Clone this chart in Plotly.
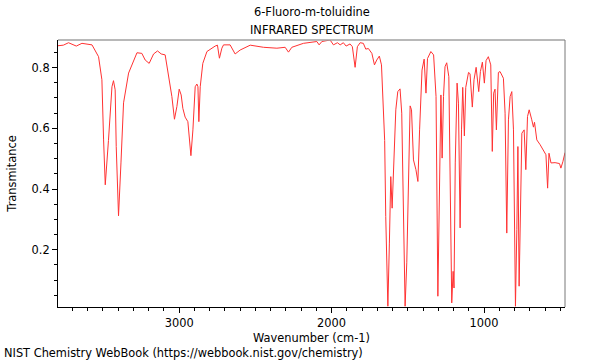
import plotly.graph_objects as go

wavenumber = [3797, 3760, 3726, 3675, 3638, 3572, 3529, 3507, 3496, 3485, 3464, 3441, 3431, 3420, 3413, 3398,
              3382, 3365, 3332, 3277, 3245, 3223, 3197, 3168, 3142, 3118, 3092, 3070, 3048, 3031, 3015, 3000,
              2987, 2976, 2961, 2943, 2923, 2910, 2895, 2884, 2877, 2871, 2862, 2845, 2818, 2764, 2749, 2736,
              2720, 2709, 2666, 2633, 2600, 2534, 2447, 2359, 2305, 2283, 2261, 2185, 2097, 2082, 2064, 2010,
              1988, 1962, 1944, 1923, 1905, 1879, 1864, 1846, 1831, 1813, 1792, 1776, 1759, 1736, 1719, 1704,
              1687, 1673, 1660, 1652, 1645, 1631, 1621, 1612, 1603, 1594, 1579, 1566, 1551, 1540, 1529, 1518,
              1507, 1496, 1485, 1476, 1463, 1447, 1434, 1423, 1407, 1393, 1381, 1371, 1349, 1331, 1315, 1303,
              1292, 1283, 1275, 1266, 1256, 1245, 1231, 1223, 1212, 1203, 1197, 1189, 1177, 1168, 1157, 1148,
              1140, 1129, 1120, 1102, 1092, 1077, 1066, 1052, 1044, 1035, 1024, 1011, 998, 987, 972, 956,
              946, 937, 928, 919, 906, 895, 873, 862, 851, 840, 829, 818, 807, 794, 785, 778,
              770, 761, 752, 737, 726, 715, 704, 687, 676, 669, 654, 632, 610, 594, 583, 574,
              561, 534, 505, 496, 483, 469]
transmittance = [0.872, 0.874, 0.882, 0.871, 0.880, 0.875, 0.836, 0.760, 0.562, 0.414, 0.560, 0.737, 0.757, 0.727, 0.540, 0.312,
                 0.486, 0.684, 0.782, 0.849, 0.847, 0.825, 0.814, 0.845, 0.855, 0.845, 0.842, 0.770, 0.705, 0.630, 0.672, 0.729,
                 0.710, 0.666, 0.637, 0.622, 0.510, 0.595, 0.737, 0.746, 0.737, 0.622, 0.737, 0.814, 0.853, 0.871, 0.874, 0.831,
                 0.864, 0.875, 0.875, 0.845, 0.858, 0.874, 0.867, 0.864, 0.867, 0.851, 0.867, 0.880, 0.886, 0.875, 0.886, 0.891,
                 0.875, 0.882, 0.875, 0.882, 0.871, 0.878, 0.869, 0.801, 0.869, 0.882, 0.880, 0.861, 0.863, 0.847, 0.809, 0.825,
                 0.838, 0.809, 0.683, 0.560, 0.310, 0.014, 0.222, 0.441, 0.337, 0.486, 0.661, 0.721, 0.730, 0.650, 0.266, 0.014,
                 0.157, 0.486, 0.674, 0.661, 0.496, 0.464, 0.425, 0.595, 0.792, 0.828, 0.716, 0.830, 0.853, 0.842, 0.705, 0.047,
                 0.376, 0.710, 0.502, 0.705, 0.803, 0.816, 0.770, 0.486, 0.025, 0.129, 0.074, 0.486, 0.749, 0.683, 0.272, 0.595,
                 0.735, 0.575, 0.735, 0.784, 0.780, 0.670, 0.760, 0.801, 0.770, 0.721, 0.787, 0.818, 0.749, 0.823, 0.836, 0.809,
                 0.524, 0.716, 0.729, 0.595, 0.784, 0.787, 0.765, 0.650, 0.255, 0.628, 0.705, 0.721, 0.595, 0.014, 0.266, 0.540,
                 0.080, 0.376, 0.584, 0.595, 0.464, 0.639, 0.661, 0.628, 0.604, 0.620, 0.562, 0.546, 0.524, 0.513, 0.403, 0.518,
                 0.486, 0.487, 0.484, 0.469, 0.490, 0.520]

title_line1 = "6-Fluoro-m-toluidine"
title_line2 = "INFRARED SPECTRUM"
x_title = "Wavenumber (cm-1)"
y_title = "Transmitance"
footer = "NIST Chemistry WebBook (https://webbook.nist.gov/chemistry)"
font = "DejaVu Sans"
fs = 11.4

fig = go.Figure()
fig.add_trace(go.Scatter(x=wavenumber, y=transmittance, mode="lines",
                         line=dict(color="rgb(255,50,50)", width=1), hoverinfo="skip"))

fig.update_layout(
    width=600, height=360,
    margin=dict(l=58, r=35, t=40, b=53),
    paper_bgcolor="white", plot_bgcolor="white",
    showlegend=False,
    font=dict(family=font, size=fs, color="black"),
    xaxis=dict(range=[3795, 469], showgrid=False, zeroline=False,
               tickvals=[1000, 2000, 3000], ticktext=["1000", "2000", "3000"],
               ticks="outside", ticklen=5, tickcolor="black",
               showline=True, linecolor="black", linewidth=1,
               minor=dict(dtick=100, tick0=0, ticks="outside", ticklen=3, tickcolor="black"),
               title=dict(text=x_title, font=dict(size=fs), standoff=5),
               tickfont=dict(size=fs)),
    yaxis=dict(range=[0.0115, 0.891], showgrid=False, zeroline=False,
               tickvals=[0.2, 0.4, 0.6, 0.8], ticktext=["0.2", "0.4", "0.6", "0.8"],
               ticks="outside", ticklen=5, tickcolor="black",
               showline=True, linecolor="black", linewidth=1,
               minor=dict(dtick=0.05, tick0=0, ticks="outside", ticklen=3, tickcolor="black"),
               title=dict(text=y_title, font=dict(size=fs), standoff=12),
               tickfont=dict(size=fs)),
    shapes=[
        dict(type="line", xref="paper", yref="paper", x0=0, x1=1, y0=1, y1=1,
             line=dict(color="rgb(160,160,160)", width=1.5)),
        dict(type="line", xref="paper", yref="paper", x0=1, x1=1, y0=0, y1=1,
             line=dict(color="rgb(120,120,120)", width=1)),
    ],
    annotations=[
        dict(text=title_line1, xref="paper", yref="paper", x=0.5, y=1, yshift=28,
             showarrow=False, xanchor="center", yanchor="middle", font=dict(size=fs)),
        dict(text=title_line2, xref="paper", yref="paper", x=0.5, y=1, yshift=10,
             showarrow=False, xanchor="center", yanchor="middle", font=dict(size=fs)),
        dict(text=footer, xref="paper", yref="paper", x=0, y=0, xshift=-56, yshift=-46,
             showarrow=False, xanchor="left", yanchor="middle", font=dict(size=fs)),
    ],
)

fig.write_html("out.html", config={"displayModeBar": False},
               post_script="document.body.style.margin='0';")
